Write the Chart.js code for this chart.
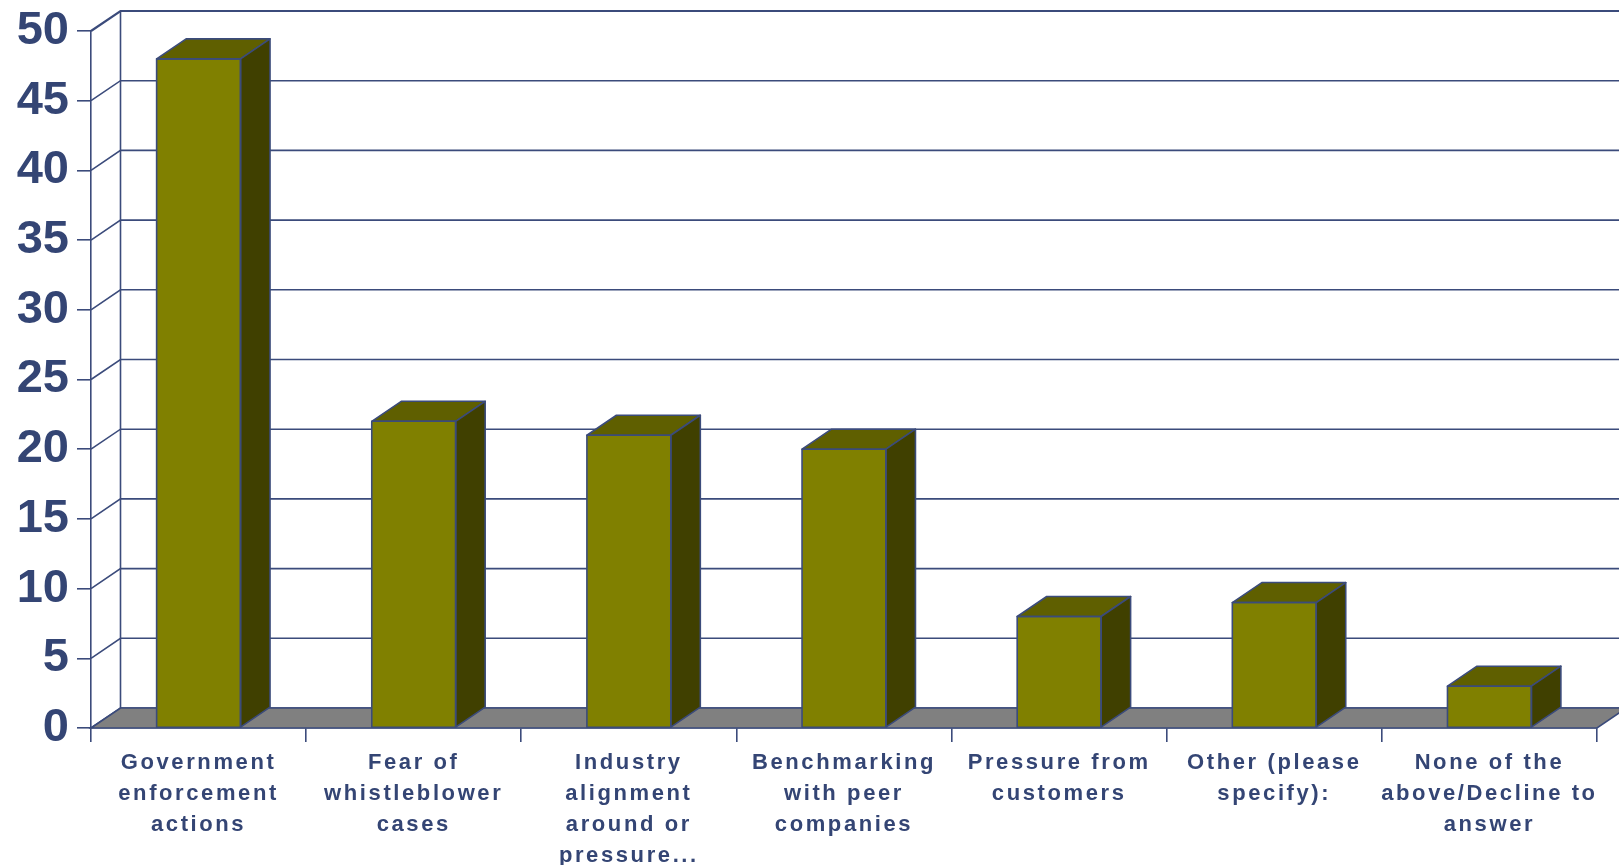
<!DOCTYPE html>
<html>
<head>
<meta charset="utf-8">
<script src="https://cdn.jsdelivr.net/npm/chart.js@4/dist/chart.umd.min.js"></script>
<style>
  html, body { margin: 0; padding: 0; background: #ffffff; }
  #wrap { width: 1619px; height: 865px; }
</style>
</head>
<body>
<div id="wrap"><canvas id="chart" width="1619" height="865"></canvas></div>
<script>
const categories = [
  ["Government", "enforcement", "actions"],
  ["Fear of", "whistleblower", "cases"],
  ["Industry", "alignment", "around or", "pressure..."],
  ["Benchmarking", "with peer", "companies"],
  ["Pressure from", "customers"],
  ["Other (please", "specify):"],
  ["None of the", "above/Decline to", "answer"]
];
const values = [48, 22, 21, 20, 8, 9, 3];
const yMin = 0;
const yMax = 50;
const yStep = 5;

const NAVY = "#3b4b7b";
const TEXT = "#344574";
const FRONT = "#808000";
const TOP = "#5f5f00";
const SIDE = "#404000";
const FLOOR = "#808080";
// depth of the fake 3d box, in pixels
const DX = 29.5;
const DY = -20;

const depthPlugin = {
  id: "depth",
  afterLayout(chart) {
    // wide letter spacing only on the category labels
    const sx = chart.scales.x;
    if (!sx._spaced) {
      const orig = sx.drawLabels.bind(sx);
      sx.drawLabels = function (area) {
        chart.ctx.save();
        chart.ctx.letterSpacing = "2.6px";
        orig(area);
        chart.ctx.restore();
      };
      sx._spaced = true;
    }
  },
  beforeDatasetsDraw(chart) {
    const ctx = chart.ctx;
    const x = chart.scales.x;
    const y = chart.scales.y;
    const y0 = y.getPixelForValue(yMin);
    const yTop = y.getPixelForValue(yMax);
    ctx.save();
    ctx.strokeStyle = NAVY;
    ctx.lineWidth = 1.6;
    // back wall grid lines + diagonal connectors
    y.ticks.forEach(t => {
      const p = y.getPixelForValue(t.value);
      ctx.beginPath();
      ctx.moveTo(x.left, p);
      ctx.lineTo(x.left + DX, p + DY);
      ctx.lineTo(chart.width, p + DY);
      ctx.lineWidth = t.value === yMax ? 2.2 : 1.6;
      ctx.stroke();
    });
    ctx.lineWidth = 1.6;
    ctx.beginPath();
    ctx.moveTo(x.left + DX, yTop + DY);
    ctx.lineTo(x.left + DX, y0 + DY);
    ctx.stroke();
    // floor
    ctx.beginPath();
    ctx.moveTo(x.left, y0);
    ctx.lineTo(x.left + DX, y0 + DY);
    ctx.lineTo(x.right + DX, y0 + DY);
    ctx.lineTo(x.right, y0);
    ctx.closePath();
    ctx.fillStyle = FLOOR;
    ctx.fill();
    ctx.stroke();
    ctx.restore();
  },
  afterDatasetsDraw(chart) {
    const ctx = chart.ctx;
    const meta = chart.getDatasetMeta(0);
    ctx.save();
    ctx.strokeStyle = NAVY;
    ctx.lineWidth = 1.6;
    ctx.lineJoin = "round";
    meta.data.forEach(bar => {
      const x0 = bar.x - bar.width / 2;
      const x1 = bar.x + bar.width / 2;
      const yt = bar.y;
      const yb = bar.base;
      // top face
      ctx.beginPath();
      ctx.moveTo(x0, yt);
      ctx.lineTo(x0 + DX, yt + DY);
      ctx.lineTo(x1 + DX, yt + DY);
      ctx.lineTo(x1, yt);
      ctx.closePath();
      ctx.fillStyle = TOP;
      ctx.fill();
      ctx.stroke();
      // side face
      ctx.beginPath();
      ctx.moveTo(x1, yt);
      ctx.lineTo(x1 + DX, yt + DY);
      ctx.lineTo(x1 + DX, yb + DY);
      ctx.lineTo(x1, yb);
      ctx.closePath();
      ctx.fillStyle = SIDE;
      ctx.fill();
      ctx.stroke();
      // front outline
      ctx.strokeRect(x0, yt, x1 - x0, yb - yt);
    });
    ctx.restore();
  }
};

const ctx = document.getElementById("chart").getContext("2d");

new Chart(ctx, {
  type: "bar",
  data: {
    labels: categories,
    datasets: [{
      data: values,
      backgroundColor: FRONT,
      borderColor: NAVY,
      borderWidth: 0,
      categoryPercentage: 1,
      barPercentage: 0.39
    }]
  },
  options: {
    responsive: false,
    animation: false,
    layout: { padding: { top: 31, right: 22, left: 0, bottom: 0 } },
    plugins: {
      legend: { display: false },
      tooltip: { enabled: false }
    },
    scales: {
      x: {
        offset: true,
        afterFit(scale) {
          scale.height = 137;
          scale.paddingLeft = 0;
          scale.paddingRight = 0;
        },
        grid: {
          display: true,
          offset: true,
          drawOnChartArea: false,
          drawTicks: true,
          tickLength: 14,
          color: NAVY,
          lineWidth: 1.6
        },
        border: { display: true, color: NAVY, width: 1.6 },
        ticks: {
          autoSkip: false,
          maxRotation: 0,
          minRotation: 0,
          padding: 5,
          color: TEXT,
          font: { family: "'Liberation Sans', Arial, sans-serif", size: 22, weight: "bold", lineHeight: 1.41 }
        }
      },
      y: {
        min: yMin,
        max: yMax,
        afterFit(scale) {
          scale.width = 91;
          scale.paddingTop = 0;
          scale.paddingBottom = 0;
        },
        grid: {
          display: true,
          drawOnChartArea: false,
          drawTicks: true,
          tickLength: 14,
          color: NAVY,
          lineWidth: 1.6
        },
        border: { display: true, color: NAVY, width: 1.6 },
        ticks: {
          stepSize: yStep,
          padding: 8,
          color: TEXT,
          font: { family: "'Liberation Sans', Arial, sans-serif", size: 47, weight: "bold" }
        }
      }
    }
  },
  plugins: [depthPlugin]
});
</script>
</body>
</html>
